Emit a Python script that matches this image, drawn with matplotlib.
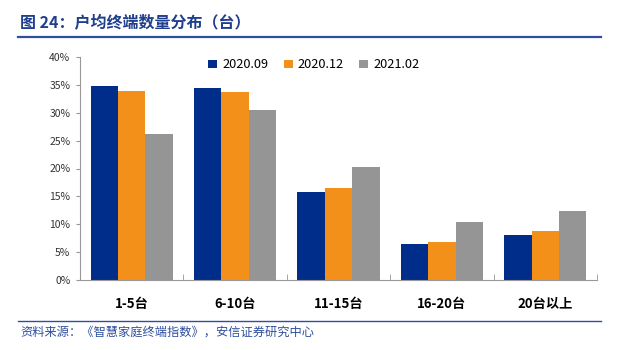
import matplotlib
matplotlib.use("Agg")
import matplotlib.pyplot as plt
import numpy as np
from matplotlib.lines import Line2D

plt.rcParams['font.family'] = ['Noto Sans CJK SC', 'DejaVu Sans']

categories = ["1-5台", "6-10台", "11-15台", "16-20台", "20台以上"]
series_names = ["2020.09", "2020.12", "2021.02"]
s2020_09 = [34.8, 34.4, 15.8, 6.5, 8.1]
s2020_12 = [33.9, 33.7, 16.5, 6.8, 8.8]
s2021_02 = [26.2, 30.5, 20.3, 10.4, 12.4]
colors = ["#002D8A", "#F39019", "#959595"]
yticks = [0, 5, 10, 15, 20, 25, 30, 35, 40]

fig = plt.figure(figsize=(6.19, 3.5), dpi=100)
W, H = 619, 350
ax = fig.add_axes([80 / W, 1 - 280 / H, 517 / W, 223 / H])

x = np.arange(len(categories))
bw = 0.265
for i, (vals, c, name) in enumerate(zip([s2020_09, s2020_12, s2021_02], colors, series_names)):
    ax.bar(x + (i - 1) * bw, vals, width=bw, color=c, label=name, zorder=2)

ax.set_xlim(-0.5, len(categories) - 0.5)
ax.set_ylim(0, 40)
ax.set_yticks(yticks)
ax.set_yticklabels([f"{v}%" for v in yticks], fontsize=7.5, color="#333333")
ax.set_xticks(x)
ax.set_xticklabels(categories, fontsize=9.5, fontweight='bold')
ax.tick_params(axis='x', length=0, pad=12)
ax.set_xticks(np.arange(len(categories) + 1) - 0.5, minor=True)
ax.tick_params(axis='x', which='minor', length=4, color="#999999", direction='in')
ax.tick_params(axis='y', length=3, color="#999999", direction='out', pad=4)
for s in ["top", "right"]:
    ax.spines[s].set_visible(False)
for s in ["left", "bottom"]:
    ax.spines[s].set_color("#999999")
    ax.spines[s].set_linewidth(0.8)

leg = ax.legend(loc='upper center', bbox_to_anchor=(0.452, 1.045), ncol=3, frameon=False,
                fontsize=9.2, handlelength=0.7, handleheight=0.7, handletextpad=0.4,
                columnspacing=1.2)

# title and decorations
fig.text(20 / W, 1 - 23 / H, "图 24：户均终端数量分布（台）", fontsize=11.5, fontweight='bold',
         color="#1F3F8C", va='center', ha='left')
fig.add_artist(Line2D([18 / W, 601 / W], [1 - 37 / H, 1 - 37 / H], color="#2E4E9E", lw=1.6))
fig.add_artist(Line2D([18 / W, 601 / W], [1 - 321 / H, 1 - 321 / H], color="#2E4E9E", lw=1.0))
fig.text(20 / W, 1 - 332 / H, "资料来源：《智慧家庭终端指数》，安信证券研究中心", fontsize=8.8,
         color="#2E4E9E", style='italic', va='center', ha='left')

fig.savefig("out.png", dpi=100)
